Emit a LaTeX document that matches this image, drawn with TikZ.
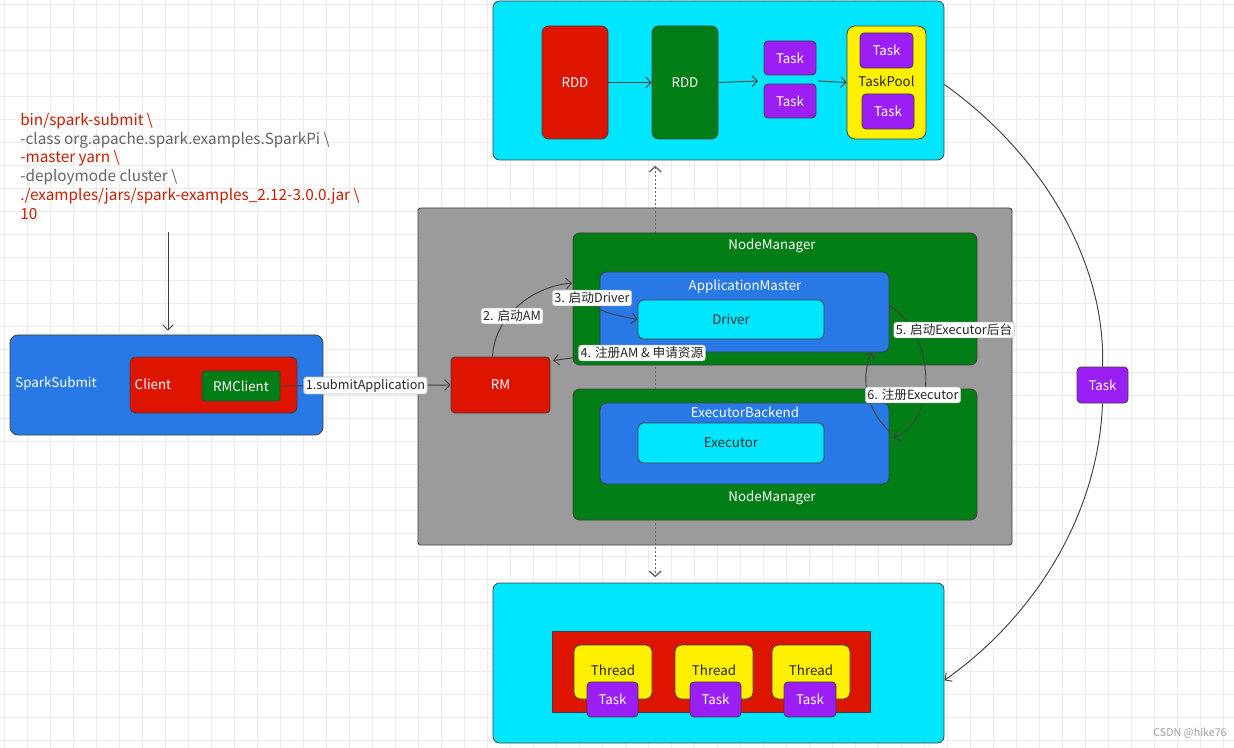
\documentclass[tikz,border=0pt]{standalone}
\usepackage{fontspec}
\setmainfont{Noto Sans CJK SC}
\usetikzlibrary{arrows.meta}
\definecolor{cyanF}{RGB}{0,230,255}
\definecolor{redF}{RGB}{221,20,0}
\definecolor{greenF}{RGB}{0,125,20}
\definecolor{purpleF}{RGB}{155,30,245}
\definecolor{yellowF}{RGB}{255,240,0}
\definecolor{blueF}{RGB}{40,120,230}
\definecolor{grayF}{RGB}{155,155,155}
\definecolor{codeRed}{RGB}{200,30,0}
\definecolor{codeGray}{RGB}{100,100,100}
\definecolor{gridC}{RGB}{236,236,236}
\begin{document}
\begin{tikzpicture}[x=0.75pt,y=-0.75pt,
  box/.style={draw=black!75, line width=0.6pt, rounded corners=3pt, inner sep=0pt, font=\fontsize{10}{11}\selectfont},
  bw/.style={minimum width=#1*0.75pt},
  bh/.style={minimum height=#1*0.75pt},
  taskbox/.style={box, fill=purpleF, text=white},
  txt/.style={inner sep=0pt, font=\fontsize{10}{11}\selectfont},
  elab/.style={fill=white, draw=gray!50, rounded corners=2pt, inner sep=1.5pt, font=\fontsize{9.5}{11}\selectfont, text=black!85},
  arr/.style={draw=black!75, line width=0.7pt, -{Straight Barb[length=4pt,width=8pt]}},
  conn/.style={draw=black!75, line width=0.7pt},
  code/.style={anchor=west, inner sep=0pt, font=\fontsize{11.5}{13}\selectfont}
]
\useasboundingbox (0,0) rectangle (1234,748);
\fill[white] (0,0) rectangle (1234,748);
\foreach \i in {0,...,54} \draw[gridC, line width=0.5pt] (\i*23+4,0) -- (\i*23+4,748);
\foreach \j in {0,...,33} \draw[gridC, line width=0.5pt] (0,\j*23+4) -- (1234,\j*23+4);

% code text
\node[code, text=codeRed] (l1) at (20,121) {bin/spark-submit \textbackslash};
\node[code, text=codeGray] (l2) at (20,140) {-class org.apache.spark.examples.SparkPi \textbackslash};
\node[code, text=codeRed] (l3) at (20,158) {-master yarn \textbackslash};
\node[code, text=codeGray] (l4) at (20,177) {-deploymode cluster \textbackslash};
\node[code, text=codeRed] (l5) at (20,196) {./examples/jars/spark-examples\_2.12-3.0.0.jar \textbackslash};
\node[code, text=codeRed] (l6) at (20,214) {10};
\coordinate (codeend) at (168,232);

% top cyan box
\node[box, fill=cyanF, bw=451, bh=159, rounded corners=5pt] (topc) at (718.5,80.5) {};
\node[box, fill=redF, text=white, bw=66, bh=113, rounded corners=5pt] (rdd1) at (575,82.5) {RDD};
\node[box, fill=greenF, text=white, bw=66, bh=113, rounded corners=5pt] (rdd2) at (685,82.5) {RDD};
\node[taskbox, bw=52, bh=34] (ta) at (790,58) {Task};
\node[taskbox, bw=52, bh=34] (tb) at (790,101) {Task};
\node[box, fill=yellowF, bw=79, bh=113, rounded corners=6pt] (pool) at (886.5,82.5) {};
\node[txt, text=black!85] (poollbl) at (886.5,81) {TaskPool};
\node[taskbox, bw=53, bh=35] (tc) at (886.5,50.5) {Task};
\node[taskbox, bw=52, bh=35] (td) at (888,111.5) {Task};
\coordinate (tin) at (758,81);
\coordinate (tout) at (818,81);
\draw[arr] (rdd1.east) -- (rdd2.west);
\draw[arr] (rdd2.east) -- (tin);
\draw[arr] (tout) -- (pool.west);

% bottom cyan box
\node[box, fill=cyanF, bw=451, bh=160, rounded corners=5pt] (botc) at (718.5,663) {};
\node[draw=black!75, line width=0.6pt, fill=redF, inner sep=0pt, bw=318, bh=81] (pool2) at (711,671.5) {};
\foreach \n/\x in {1/613,2/714,3/811}{
  \node[box, fill=yellowF, bw=78, bh=54, rounded corners=5pt, text=black!85] (th\n) at (\x,672) {};
  \node[txt, text=black!85] (thl\n) at (\x,670) {Thread};
}
\node[taskbox, bw=51, bh=35] (tt1) at (612.5,699.5) {Task};
\node[taskbox, bw=51, bh=35] (tt2) at (715.5,699.5) {Task};
\node[taskbox, bw=52, bh=35] (tt3) at (810,699.5) {Task};

% grey box
\node[box, fill=grayF, bw=594, bh=337, rounded corners=2pt] (grey) at (715,376.5) {};
\draw[line width=1pt, dotted, {Straight Barb[length=4pt,width=9pt]}-{Straight Barb[length=4pt,width=9pt]}, draw=black!60] ([xshift=-47.5pt,yshift=-4pt]topc.south) -- ([xshift=-47.5pt,yshift=4pt]botc.north);

\node[box, fill=greenF, bw=404, bh=132, rounded corners=5pt] (nm1) at (775,299) {};
\node[txt, text=white] (nm1l) at (772,246) {NodeManager};
\node[box, fill=blueF, bw=289, bh=80, rounded corners=5pt] (am) at (744.5,312) {};
\node[txt, text=white] (aml) at (745,287) {ApplicationMaster};
\node[box, fill=cyanF, bw=186, bh=39, rounded corners=4pt, text=black!80] (driver) at (731,319.5) {Driver};

\node[box, fill=greenF, bw=404, bh=131, rounded corners=5pt] (nm2) at (775,454.5) {};
\node[txt, text=white] (nm2l) at (772,498) {NodeManager};
\node[box, fill=blueF, bw=289, bh=81, rounded corners=5pt] (eb) at (744.5,443.5) {};
\node[txt, text=white] (ebl) at (745,412) {ExecutorBackend};
\node[box, fill=cyanF, bw=186, bh=40, rounded corners=4pt, text=black!80] (exec) at (731,443) {Executor};

\node[box, fill=redF, text=white, bw=99, bh=56] (rm) at (500.5,385) {RM};

% spark submit
\node[box, fill=blueF, bw=313, bh=100, rounded corners=6pt] (ss) at (166.5,385) {};
\node[txt, text=white] (ssl) at (56,384) {SparkSubmit};
\node[box, fill=redF, bw=167, bh=56, rounded corners=4pt] (client) at (213.5,385) {};
\node[txt, text=white] (clientl) at (153,384) {Client};
\node[box, fill=greenF, text=white, bw=78, bh=30, rounded corners=2pt] (rmc) at (241,386) {RMClient};

\draw[arr] (codeend) -- ([yshift=3pt]ss.north -| codeend);
\draw[arr] (rmc.east) -- node[elab, pos=0.5] (e1) {1.submitApplication} (rm.west);

% arrows 2-6
\coordinate (c2e) at (572,283);
\coordinate (c3s) at (576,291);
\draw[arr] ([xshift=-6pt]rm.north) .. controls (494,320) and (528,287) .. (c2e);
\node[elab] (e2) at (512,316) {2. 启动AM};
\draw[arr] (c3s) .. controls (600,312) .. (driver.west);
\node[elab] (e3) at (592,298) {3. 启动Driver};
\draw[arr] ([xshift=8pt]am.south west) -- ([xshift=2pt,yshift=-3pt]rm.north east);
\node[elab] (e4) at (642,353) {4. 注册AM \& 申请资源};
\draw[arr] ([yshift=5pt]am.east) .. controls (936,335) and (938,420) .. ([xshift=3pt,yshift=4pt]eb.east);
\node[elab] (e5) at (954,330) {5. 启动Executor后台};
\draw[arr] ([yshift=9pt]eb.east) .. controls (862,405) and (862,372) .. ([xshift=-13pt]am.south east);
\node[elab] (e6) at (913,395) {6. 注册Executor};

% big arc
\node[taskbox, bw=51, bh=36] (t5) at (1102.5,385) {Task};
\draw[conn] ([yshift=-3pt]topc.east) .. controls (1050,160) and (1106,270) .. (t5.north);
\draw[arr] (t5.south) .. controls (1098,520) and (1030,620) .. ([yshift=-13pt]botc.east);

\node[text=gray!75, inner sep=0pt, font=\fontsize{8}{9}\selectfont] (wm) at (1190,733) {CSDN @hike76};
\end{tikzpicture}
\end{document}
